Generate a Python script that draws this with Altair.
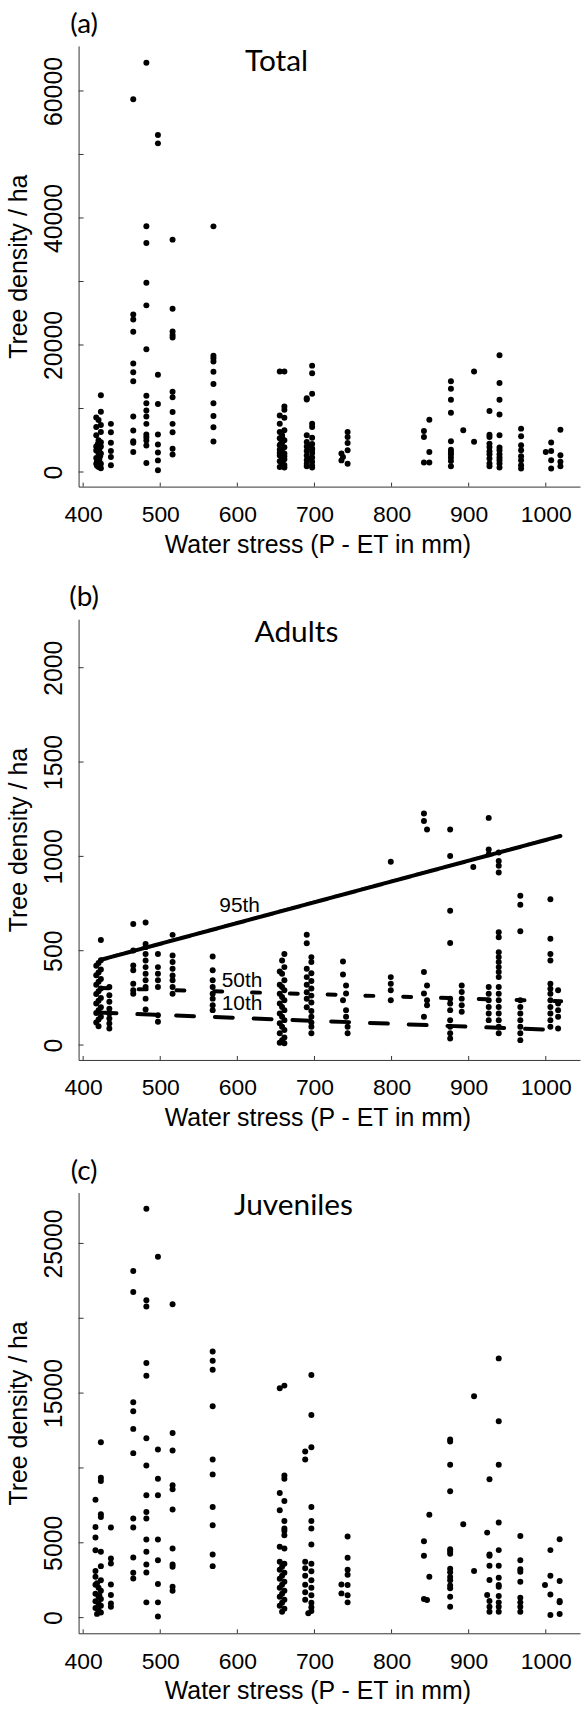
import altair as alt
import pandas as pd

FONT = "Liberation Sans"
LFONT = "Lato"

# ---------------- data ----------------
x_ticks = [400, 500, 600, 700, 800, 900, 1000]
x_domain = [394.1, 1044.4]

# (a) Total: (water stress, tree density)
total_pts = [
    (423, 12100), (423, 9500), (417, 8600), (420, 8200), (423, 7400), (417, 7100), (423, 6300),
    (417, 5800), (420, 5000), (423, 4700), (417, 4000), (423, 4000), (417, 3400), (420, 2900),
    (423, 2900), (417, 2200), (421, 1900), (417, 1300), (423, 1300), (420, 800), (423, 600),
    (418, 1000), (421, 3600), (419, 4400), (422, 2500), (418, 1700),
    (436, 7580), (436, 6270), (436, 4600), (436, 3290), (436, 2350), (436, 1050),
    (465, 58700), (465, 24800), (465, 24000), (465, 22100), (465, 17100), (465, 15700),
    (465, 14300), (465, 8730), (465, 6530), (465, 4860), (465, 4600), (465, 3140),
    (482, 64450), (482, 38700), (482, 36070), (482, 29800), (482, 26240), (482, 19340),
    (482, 12020), (482, 10820), (482, 9670), (482, 8730), (482, 7580), (482, 5900),
    (482, 5490), (482, 4970), (482, 4180), (482, 1410),
    (497, 53060), (497, 51750), (497, 15320), (497, 10720), (497, 5900), (497, 4340),
    (497, 3080), (497, 1830), (497, 260),
    (516, 36590), (516, 25720), (516, 22110), (516, 21590), (516, 21170), (516, 12650),
    (516, 11760), (516, 9460), (516, 7580), (516, 6270), (516, 3660), (516, 2770),
    (569, 38680), (569, 18300), (569, 17900), (569, 17400), (569, 15790), (569, 13850),
    (569, 10820), (569, 8830), (569, 7060), (569, 4810),
    (655, 15810), (661, 15810), (661, 10320), (661, 9800), (655, 8910), (661, 8550),
    (655, 7600), (661, 6560), (655, 6300), (658, 5800), (655, 5300), (661, 5000),
    (658, 4600), (655, 4200), (661, 3900), (655, 3500), (658, 3200), (661, 2900),
    (655, 2600), (658, 2300), (661, 2000), (655, 1700), (658, 1400), (661, 1100),
    (655, 800), (661, 700), (658, 5500), (655, 3000), (661, 2500), (658, 1900), (656, 4400),
    (697, 16750), (697, 15550), (697, 12310), (690, 11630), (690, 11400), (697, 7600),
    (697, 7080), (690, 5780), (697, 5400), (690, 4730), (697, 4400), (690, 4000),
    (697, 3700), (690, 3300), (697, 3000), (690, 2600), (697, 2300), (690, 1900),
    (697, 1600), (690, 1300), (697, 1000), (697, 700), (690, 900), (694, 2100),
    (697, 3500), (693, 4200),
    (743, 6300), (743, 5500), (743, 4570), (743, 3420), (735, 2900), (737, 2350),
    (735, 1830), (743, 1310),
    (849, 8230), (842, 6450), (842, 5520), (849, 3160), (842, 1490), (849, 1490),
    (877, 14300), (877, 13100), (877, 11370), (877, 9330), (877, 4830), (877, 3520),
    (877, 3160), (877, 2790), (877, 2270), (877, 1750), (877, 910),
    (893, 6560), (907, 15810), (907, 4780),
    (927, 9590), (927, 5880), (927, 5520), (927, 4470), (927, 3950), (927, 3270),
    (927, 2790), (927, 2110), (927, 1330), (927, 910),
    (940, 18370), (940, 14030), (940, 11370), (940, 9070), (940, 5780), (940, 3850),
    (940, 3420), (940, 2790), (940, 2270), (940, 1850), (940, 1330), (940, 700),
    (968, 6830), (968, 5620), (968, 4210), (968, 3420), (968, 2480), (968, 1850),
    (968, 1070), (968, 540),
    (1000, 3160), (1007, 4630), (1007, 3320), (1007, 1850), (1007, 540),
    (1019, 6660), (1019, 2640), (1019, 1600), (1019, 910),
]

# (b) Adults
adult_pts = [
    (423, 557), (423, 450), (420, 435), (417, 420), (423, 400), (420, 385), (417, 370),
    (423, 350), (420, 335), (417, 320), (423, 300), (420, 285), (417, 270), (423, 250),
    (420, 235), (417, 220), (423, 200), (420, 185), (417, 170), (423, 150), (420, 135),
    (417, 120), (420, 100),
    (434, 308), (434, 264), (434, 229), (434, 193), (434, 167), (434, 141), (434, 114), (434, 88),
    (465, 642), (465, 501), (465, 422), (465, 396), (465, 325), (465, 290), (465, 272),
    (481, 650), (481, 536), (481, 519), (481, 483), (481, 448), (481, 413), (481, 378),
    (481, 343), (481, 308), (481, 246), (481, 188),
    (497, 483), (497, 413), (497, 378), (497, 343), (497, 308), (497, 158), (497, 123),
    (516, 584), (516, 475), (516, 440), (516, 404), (516, 369), (516, 343), (516, 308), (516, 272),
    (568, 469), (568, 396), (568, 343), (568, 308), (568, 272), (568, 246), (568, 211), (568, 185),
    (661, 483), (658, 448), (661, 413), (655, 390), (658, 378), (661, 343), (655, 320),
    (658, 308), (661, 290), (655, 272), (658, 255), (661, 237), (655, 220), (658, 202),
    (661, 185), (655, 167), (658, 150), (661, 132), (655, 115), (658, 97), (661, 80),
    (655, 62), (661, 40), (658, 26), (655, 12), (661, 10),
    (690, 585), (690, 540), (696, 466), (696, 440), (690, 404), (696, 380), (690, 360),
    (696, 340), (690, 320), (696, 300), (690, 280), (696, 262), (690, 245), (696, 225),
    (690, 200), (696, 180), (696, 150), (696, 120), (696, 97), (696, 62),
    (737, 443), (737, 374), (741, 316), (741, 273), (737, 237), (741, 185), (741, 150),
    (743, 97), (743, 62),
    (799, 972), (799, 360), (799, 325), (799, 290), (799, 237),
    (842, 1227), (842, 1187), (846, 1143), (842, 387), (846, 316), (842, 273), (846, 237),
    (846, 211), (842, 150),
    (876, 1143), (876, 1002), (876, 712), (876, 541), (876, 246), (876, 220), (876, 185),
    (876, 132), (876, 97), (876, 62), (876, 35),
    (891, 316), (891, 281), (891, 246), (891, 211), (891, 176), (906, 944),
    (926, 1204), (926, 1037), (926, 1011), (926, 308), (926, 272), (926, 237), (926, 202),
    (926, 167), (926, 132),
    (939, 1020), (939, 976), (939, 950), (939, 914), (939, 598), (939, 571), (939, 492),
    (939, 466), (939, 440), (939, 413), (939, 387), (939, 360), (939, 308), (939, 272),
    (939, 237), (939, 202), (939, 167), (939, 132), (939, 97), (939, 62),
    (967, 791), (967, 744), (967, 603), (967, 237), (967, 202), (967, 167), (967, 132),
    (967, 97), (967, 62), (967, 26),
    (1006, 773), (1006, 563), (1006, 483), (1006, 448), (1006, 325), (1006, 299),
    (1006, 272), (1006, 237), (1006, 202), (1006, 167), (1006, 132), (1006, 97),
    (1016, 290), (1016, 220), (1016, 185), (1016, 150), (1016, 88),
]

# (c) Juveniles
juv_pts = [
    (423, 11720), (423, 9350), (423, 9130), (416, 7880), (423, 6900), (423, 6730),
    (416, 6060), (416, 5350), (416, 4500), (423, 4400), (423, 3440), (416, 3110),
    (416, 2730), (423, 2500), (416, 2200), (420, 2000), (423, 1800), (416, 1600),
    (420, 1400), (423, 1250), (416, 1100), (420, 950), (423, 800), (416, 650),
    (420, 500), (423, 350), (418, 250), (421, 1500), (418, 2300),
    (436, 6020), (436, 3950), (436, 3620), (436, 2220), (436, 1510), (436, 950), (436, 730),
    (465, 23160), (465, 21760), (465, 14390), (465, 13790), (465, 12610), (465, 10990),
    (465, 6620), (465, 6020), (465, 4020), (465, 3000), (465, 2620),
    (482, 27310), (482, 21200), (482, 20780), (482, 17010), (482, 16160), (482, 11990),
    (482, 10170), (482, 8170), (482, 7060), (482, 6620), (482, 5220), (482, 4400),
    (482, 3550), (482, 3020), (482, 1020),
    (497, 24110), (497, 11230), (497, 9280), (497, 8170), (497, 5220), (497, 3840),
    (497, 2240), (497, 1020), (497, 70),
    (516, 20940), (516, 12340), (516, 11170), (516, 8840), (516, 8570), (516, 7220),
    (516, 4620), (516, 3550), (516, 3400), (516, 2060), (516, 1800),
    (568, 17780), (568, 17160), (568, 16560), (568, 14120), (568, 10570), (568, 9570),
    (568, 7390), (568, 6170), (568, 4220), (568, 3440),
    (655, 15320), (661, 15500), (661, 9500), (661, 9280), (655, 8330), (661, 7790),
    (655, 7170), (661, 6460), (661, 5950), (661, 5800), (661, 5500), (655, 4730),
    (661, 4620), (655, 3730), (661, 3600), (658, 3400), (655, 3200), (661, 3000),
    (658, 2800), (655, 2600), (661, 2400), (658, 2200), (655, 2000), (661, 1800),
    (658, 1600), (655, 1400), (661, 1200), (658, 1000), (655, 800), (661, 600), (658, 400),
    (696, 16210), (696, 13540), (696, 11390), (688, 11100), (688, 10570), (696, 7390),
    (696, 6460), (696, 5950), (696, 4880), (688, 3730), (696, 3600), (688, 3300),
    (696, 3100), (688, 2800), (696, 2500), (688, 2200), (696, 2000), (688, 1700),
    (696, 1500), (688, 1200), (696, 1000), (696, 700), (696, 450), (692, 290),
    (743, 5420), (743, 4000), (743, 3200), (743, 2870), (735, 2220), (743, 2180),
    (735, 1620), (743, 1500), (743, 1020),
    (849, 6880), (842, 5110), (842, 4130), (849, 2730), (842, 1240), (846, 1180),
    (876, 11900), (876, 11770), (876, 10210), (876, 8440), (876, 4570), (876, 4420),
    (876, 4260), (876, 3260), (876, 3040), (876, 2710), (876, 2490), (876, 2150),
    (876, 1970), (876, 1400), (876, 730),
    (893, 6240), (907, 14790), (907, 3110),
    (927, 9240), (924, 5680), (927, 4220), (927, 4130), (927, 3460), (927, 2510),
    (924, 1510), (927, 1110), (927, 730), (927, 400),
    (939, 17320), (939, 13120), (939, 10210), (939, 6350), (939, 4510), (939, 3460),
    (939, 2660), (939, 2180), (939, 2060), (939, 1440), (939, 1020), (939, 730), (939, 400),
    (967, 5460), (967, 3840), (967, 3240), (967, 3060), (967, 2400), (967, 1330),
    (967, 1020), (967, 730), (967, 400),
    (999, 2180), (1006, 4510), (1006, 2800), (1006, 1550), (1006, 180),
    (1018, 5240), (1018, 2440), (1018, 1110), (1018, 1020), (1018, 240),
]

# quantile regression lines in panel (b)
pct_names = ["95th", "50th", "10th"]
pct_x = [[423, 1019], [423, 1020], [420, 1018]]
pct_y = [[452, 1108], [302, 232], [172, 79]]
pct_label_x = [603, 606, 606]
pct_label_y = [707, 306, 185]

# axes
a_dom, a_ticks, a_labels = [-2300, 67100], [0, 10000, 20000, 30000, 40000, 50000, 60000], [0, 20000, 40000, 60000]
b_dom, b_ticks, b_labels = [-79, 2257], [0, 500, 1000, 1500, 2000], [0, 500, 1000, 1500, 2000]
c_dom, c_ticks, c_labels = [-1046, 28398], [0, 5000, 10000, 15000, 20000, 25000], [0, 5000, 15000, 25000]

W, H = 504, 443
AX = "#333333"


def xscale():
    return alt.Scale(domain=x_domain, nice=False, zero=False)


def make_axes(ylabels):
    xa = alt.Axis(values=x_ticks, format="d", grid=False, ticks=False, tickSize=0,
                  labelPadding=35, labelBaseline="alphabetic", labelFont=FONT, labelFontSize=23,
                  labelColor="black", labelFlush=False, labelOverlap=False,
                  domainColor=AX, domainWidth=1,
                  title="Water stress (P - ET in mm)", titleFont=FONT, titleFontSize=25,
                  titleFontWeight="normal", titleColor="black", titleX=240, titleY=66,
                  titleAlign="center", titleBaseline="alphabetic", titleAnchor="start")
    ya = alt.Axis(values=ylabels, format="d", grid=False, ticks=False, tickSize=0,
                  labelAngle=270, labelAlign="center", labelBaseline="alphabetic",
                  labelPadding=17, labelFont=FONT, labelFontSize=25, labelColor="black",
                  labelFlush=False, labelOverlap=False,
                  domainColor=AX, domainWidth=1,
                  title="Tree density / ha", titleFont=FONT, titleFontSize=25,
                  titleFontWeight="normal", titleColor="black", titleAngle=270,
                  titleX=-52.7, titleY=221.5, titleAlign="center", titleBaseline="alphabetic",
                  titleAnchor="start")
    return xa, ya


def panel(pts, ydom, yticks, ylabels, tag, name, name_x, name_y, extra=()):
    df = pd.DataFrame(pts, columns=["x", "y"])
    yscale = alt.Scale(domain=ydom, nice=False, zero=False)
    xa, ya = make_axes(ylabels)
    X = lambda: alt.X("x:Q", scale=xscale(), axis=xa)
    Y = lambda: alt.Y("y:Q", scale=yscale, axis=ya)
    points = alt.Chart(df).mark_circle(size=36, color="black", opacity=1).encode(x=X(), y=Y())
    xt = alt.Chart(pd.DataFrame({"x": x_ticks})).mark_rule(color=AX, strokeWidth=1).encode(
        x=X(), y=alt.value(H), y2=alt.value(H - 4))
    yt = alt.Chart(pd.DataFrame({"y": yticks})).mark_rule(color=AX, strokeWidth=1).encode(
        y=Y(), x=alt.value(0), x2=alt.value(5))
    tag_l = alt.Chart(pd.DataFrame({"t": [tag]})).mark_text(
        font=LFONT, fontSize=28, color="black", align="center", baseline="middle").encode(
        text="t:N", x=alt.value(5.5), y=alt.value(-21))
    name_l = alt.Chart(pd.DataFrame({"t": [name]})).mark_text(
        font=LFONT, fontSize=30, color="black", align="center", baseline="middle").encode(
        text="t:N", x=alt.value(name_x), y=alt.value(name_y))
    layers = [points, xt, yt, tag_l, name_l] + [f(X, Y) for f in extra]
    return alt.layer(*layers).properties(width=W, height=H)


dashes = {"95th": [1, 0], "50th": [8, 30], "10th": [18, 21]}


def pct_line(i):
    def f(X, Y):
        d = pd.DataFrame({"x": pct_x[i], "y": pct_y[i]})
        return alt.Chart(d).mark_line(color="black", strokeWidth=4, strokeCap="round",
                                      strokeDash=dashes[pct_names[i]]).encode(x=X(), y=Y())
    return f


def pct_text(X, Y):
    d = pd.DataFrame({"t": pct_names, "x": pct_label_x, "y": pct_label_y})
    return alt.Chart(d).mark_text(font=FONT, fontSize=21, color="black", align="center",
                                  baseline="alphabetic").encode(text="t:N", x=X(), y=Y())


pa = panel(total_pts, a_dom, a_ticks, a_labels, "(a)", "Total", 199, 16)
pb = panel(adult_pts, b_dom, b_ticks, b_labels, "(b)", "Adults", 219, 14,
           extra=(pct_line(0), pct_line(1), pct_line(2), pct_text))
pc = panel(juv_pts, c_dom, c_ticks, c_labels, "(c)", "Juveniles", 216, 14)

chart = alt.vconcat(pa, pb, pc, spacing=133.3, bounds="flush").properties(
    padding={"left": 5.0, "top": 5.7, "right": 0, "bottom": 5},
    background="white",
).configure_view(stroke="transparent")

chart.save("out.html", embed_options={"renderer": "svg", "actions": False})
